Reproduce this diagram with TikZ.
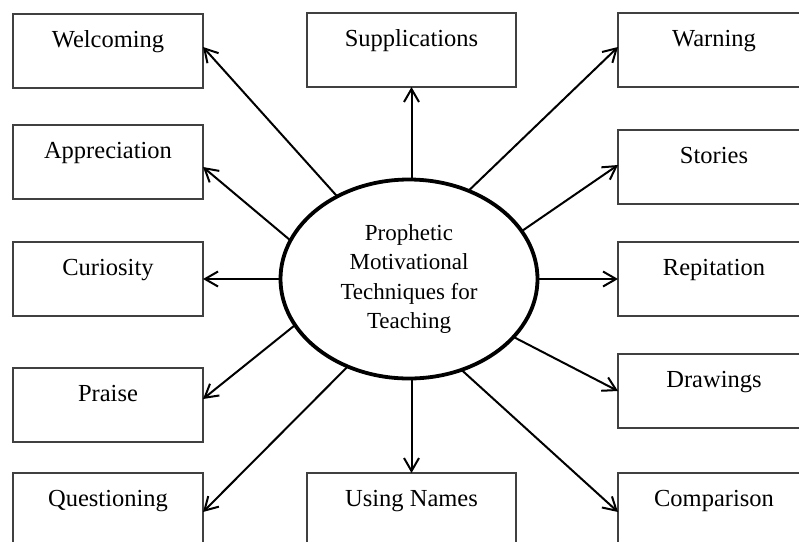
\documentclass[tikz,border=0pt]{standalone}
\usepackage{fontspec}
\setmainfont{Liberation Serif}
\usetikzlibrary{arrows.meta,shapes.geometric}
\begin{document}
\begin{tikzpicture}[x=1pt,y=-1pt,
  box/.style={draw=black!75, line width=1.4pt, anchor=north west, inner xsep=0pt, inner ysep=0pt, outer sep=0pt, text height=33pt, text depth=41pt, font=\fontsize{24.5}{29}\selectfont},
  lbox/.style={box, minimum width=190pt},
  mbox/.style={box, minimum width=209pt},
  rbox/.style={box, minimum width=192pt},
  hub/.style={ellipse, draw, line width=3.8pt, minimum width=257pt, minimum height=199pt, inner sep=0pt, outer sep=0pt, align=center, font=\fontsize{23}{29.5}\selectfont},
  arr/.style={-{Straight Barb[length=13pt,width=15pt]}, line width=2pt}]
\useasboundingbox (0,0) rectangle (799,541);
\clip (0,0) rectangle (799,541);

\node[lbox] (welcoming) at (13,14) {Welcoming};
\node[lbox] (appreciation) at (13,125) {Appreciation};
\node[lbox] (curiosity) at (13,242) {Curiosity};
\node[lbox] (praise) at (13,368) {Praise};
\node[lbox] (questioning) at (13,473) {Questioning};

\node[mbox] (supplications) at (307,13) {Supplications};
\node[mbox] (usingnames) at (307,473) {Using Names};

\node[rbox] (warning) at (618,13) {Warning};
\node[rbox] (stories) at (618,130) {Stories};
\node[rbox] (repitation) at (618,242) {Repitation};
\node[rbox] (drawings) at (618,354) {Drawings};
\node[rbox] (comparison) at (618,473) {Comparison};

\node[hub] (c) at (409,279) {Prophetic\\Motivational\\Techniques for\\Teaching};

\draw[arr] (c.131) -- ([yshift=4pt]welcoming.east);
\draw[arr] (c.162) -- ([yshift=-5pt]appreciation.east);
\draw[arr] (c.180) -- (curiosity.east);
\draw[arr] (c.202) -- ([yshift=6pt]praise.east);
\draw[arr] (c.235) -- ([yshift=-2pt]questioning.east);
\draw[arr] (supplications.south |- c.north) -- (supplications.south);
\draw[arr] (usingnames.north |- c.south) -- (usingnames.north);
\draw[arr] (c.56) -- ([yshift=3pt]warning.west);
\draw[arr] (c.23) -- ([yshift=2pt]stories.west);
\draw[arr] (c.0) -- (repitation.west);
\draw[arr] (c.331) -- (drawings.west);
\draw[arr] (c.300) -- ([yshift=-2pt]comparison.west);
\end{tikzpicture}
\end{document}
